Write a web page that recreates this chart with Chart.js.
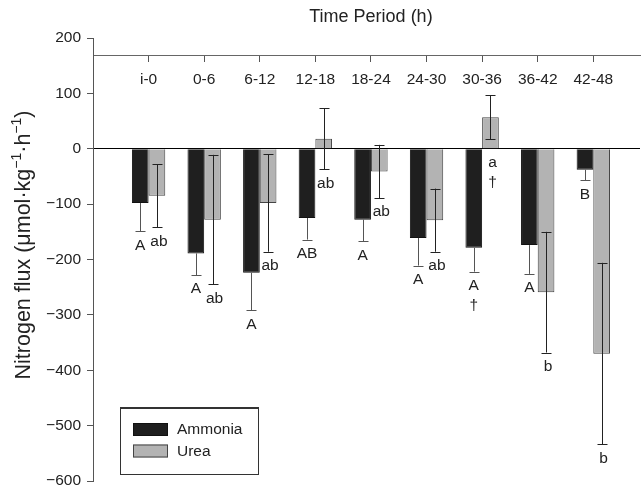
<!DOCTYPE html>
<html><head><meta charset="utf-8">
<script src="https://cdn.jsdelivr.net/npm/chart.js@4.4.1/dist/chart.umd.min.js"></script>
<style>html,body{margin:0;padding:0;background:#fff}#wrap{width:644px;height:490px}</style>
</head><body><div id="wrap"><canvas id="c" width="644" height="490"></canvas></div>
<script>
// ---- data ----
const categories = ['i-0','0-6','6-12','12-18','18-24','24-30','30-36','36-42','42-48'];
const ammonia   = [-98, -189, -224, -125, -128, -161, -179, -174, -38];
const ammoniaSE = [51, 39, 68, 39, 39, 50, 43, 52, 19];
const urea      = [-85, -128, -98, 18, -41, -129, 57, -259, -370];
const ureaSE    = [57, 117, 88, 55, 48, 57, 40, 109, 164];
const ammoniaLetters = ['A','A','A','AB','A','A','A','A','B'];
const ureaLetters    = ['ab','ab','ab','ab','ab','ab','a','b','b'];
const ammoniaMarks   = ['','','','','','','\u2020','',''];
const ureaMarks      = ['','','','','','','\u2020','',''];
const yTicks = [200, 100, 0, -100, -200, -300, -400, -500, -600];
const xAxisValue = 168;
const titleText = 'Time Period (h)';
const yLabelParts = [['Nitrogen flux (\u03bcmol\u00b7kg',0],['\u22121',1],['\u00b7h',0],['\u22121',1],[')',0]];

const FONT = '"Liberation Sans", Arial, Helvetica, sans-serif';
const TXT = '#222';

const errorBarPlugin = {
  id: 'errorBars',
  afterDatasetsDraw(chart) {
    const ctx = chart.ctx, ys = chart.scales.y;
    chart.data.datasets.forEach((ds, di) => {
      const meta = chart.getDatasetMeta(di);
      meta.data.forEach((bar, i) => {
        const m = ds.data[i].y, se = ds.se[i];
        let hi = m + se, lo = m - se;
        if (!ds.bothSides) { if (m < 0) hi = m; else lo = m; }
        const x = Math.round(bar.x) + 0.5;
        const y1 = ys.getPixelForValue(hi), y2 = ys.getPixelForValue(lo);
        ctx.save();
        ctx.strokeStyle = ds.errColor; ctx.lineWidth = 1;
        ctx.beginPath();
        ctx.moveTo(x, y1); ctx.lineTo(x, y2);
        const cap = 5;
        if (ds.bothSides || m >= 0) { ctx.moveTo(x - cap, Math.round(y1)+0.5); ctx.lineTo(x + cap, Math.round(y1)+0.5); }
        if (ds.bothSides || m < 0) { ctx.moveTo(x - cap, Math.round(y2)+0.5); ctx.lineTo(x + cap, Math.round(y2)+0.5); }
        ctx.stroke();
        ctx.restore();
      });
    });
  }
};

const letterPlugin = {
  id: 'letters',
  afterDatasetsDraw(chart) {
    const ctx = chart.ctx, ys = chart.scales.y;
    ctx.save();
    ctx.font = '15.5px ' + FONT;
    ctx.fillStyle = TXT;
    ctx.textAlign = 'center';
    ctx.textBaseline = 'middle';
    chart.data.datasets.forEach((ds, di) => {
      const meta = chart.getDatasetMeta(di);
      meta.data.forEach((bar, i) => {
        const lo = ds.data[i].y - ds.se[i];
        const y = Math.max(ys.getPixelForValue(lo), ys.getPixelForValue(0)) + 14;
        const x = bar.x + ds.letterDx;
        ctx.fillText(ds.letters[i], x, y);
        if (ds.marks[i]) ctx.fillText(ds.marks[i], x, y + 20);
      });
    });
    ctx.restore();
  }
};

const textPlugin = {
  id: 'texts',
  afterDraw(chart) {
    const ctx = chart.ctx, xs = chart.scales.x;
    ctx.save();
    ctx.fillStyle = TXT;
    // title centred over the category range
    ctx.font = '18px ' + FONT;
    ctx.textAlign = 'center'; ctx.textBaseline = 'middle';
    ctx.fillText(titleText, xs.getPixelForValue((categories.length - 1) / 2), 17);
    // rotated y label with superscripts
    const mainF = 21.5, supF = 14;
    ctx.translate(24, chart.height / 2);
    ctx.rotate(-Math.PI / 2);
    let total = 0;
    yLabelParts.forEach(([t, s]) => { ctx.font = (s ? supF : mainF) + 'px ' + FONT; total += ctx.measureText(t).width; });
    let x = -total / 2;
    ctx.textAlign = 'left'; ctx.textBaseline = 'middle';
    yLabelParts.forEach(([t, s]) => {
      ctx.font = (s ? supF : mainF) + 'px ' + FONT;
      ctx.fillText(t, x, s ? -7 : 0);
      x += ctx.measureText(t).width;
    });
    ctx.restore();

    // legend box
    const ca = chart.chartArea;
    const bx = ca.left + 27, by = 407, bw = 138, bh = 67;
    ctx.save();
    ctx.fillStyle = '#fff';
    ctx.fillRect(bx, by, bw, bh);
    ctx.strokeStyle = '#333'; ctx.lineWidth = 1;
    ctx.strokeRect(bx + 0.5, by + 0.5, bw, bh);
    ctx.lineWidth = 2;
    ctx.beginPath(); ctx.moveTo(bx, by + 1); ctx.lineTo(bx + bw + 1, by + 1); ctx.stroke();
    ctx.font = '15.5px ' + FONT;
    ctx.textAlign = 'left'; ctx.textBaseline = 'middle';
    chart.data.datasets.forEach((ds, di) => {
      const sy = by + 16 + di * 21.5;
      ctx.fillStyle = ds.backgroundColor;
      ctx.fillRect(bx + 13, sy, 35, 13);
      ctx.strokeStyle = ds.borderColor; ctx.lineWidth = 1;
      ctx.strokeRect(bx + 13.5, sy + 0.5, 34, 12);
      ctx.fillStyle = TXT;
      ctx.fillText(ds.label, bx + 57, sy + 7);
    });
    ctx.restore();
  }
};

new Chart(document.getElementById('c'), {
  type: 'bar',
  data: {
    datasets: [
      { label: 'Ammonia', data: ammonia.map((v, i) => ({ x: i, y: v })), backgroundColor: '#1f1f1f', borderColor: '#111', borderWidth: 1,
        se: ammoniaSE, letters: ammoniaLetters, marks: ammoniaMarks, bothSides: false, errColor: '#555', letterDx: 0 },
      { label: 'Urea', data: urea.map((v, i) => ({ x: i, y: v })), backgroundColor: '#b3b3b3', borderColor: '#444', borderWidth: 1,
        se: ureaSE, letters: ureaLetters, marks: ureaMarks, bothSides: true, errColor: '#222', letterDx: 2 }
    ]
  },
  options: {
    responsive: false, animation: false, events: [],
    layout: { padding: { top: 38, right: 4, bottom: 9, left: 0 } },
    datasets: { bar: { categoryPercentage: 0.6, barPercentage: 1.0 } },
    scales: {
      x: {
        type: 'linear', position: { y: xAxisValue }, min: -1, max: 8.84, offset: false,
        afterBuildTicks: s => { s.ticks = categories.map((c, i) => ({ value: i })); },
        afterFit: s => { s.paddingLeft = 0; s.paddingRight = 0; s.paddingTop = 0; s.paddingBottom = 0; },
        ticks: { callback: v => categories[v], font: { family: FONT, size: 15.5 }, color: TXT, padding: 9, maxRotation: 0, autoSkip: false },
        grid: { drawOnChartArea: false, offset: false, tickLength: 6, tickColor: '#555' },
        border: { color: '#666', width: 1 }
      },
      y: {
        min: -600, max: 200,
        afterBuildTicks: s => { s.ticks = yTicks.map(v => ({ value: v })); },
        afterFit: s => { s.width = 93; s.paddingTop = 0; s.paddingBottom = 0; },
        ticks: { callback: v => v < 0 ? '\u2212' + Math.abs(v) : String(v), font: { family: FONT, size: 15.5 }, color: TXT, padding: 6 },
        grid: { color: c => (c.tick && c.tick.value === 0) ? '#000' : 'rgba(0,0,0,0)', tickColor: '#555', tickLength: 6 },
        border: { color: '#555', width: 1 }
      }
    },
    plugins: { legend: { display: false }, tooltip: { enabled: false } }
  },
  plugins: [errorBarPlugin, letterPlugin, textPlugin]
});
</script></body></html>
